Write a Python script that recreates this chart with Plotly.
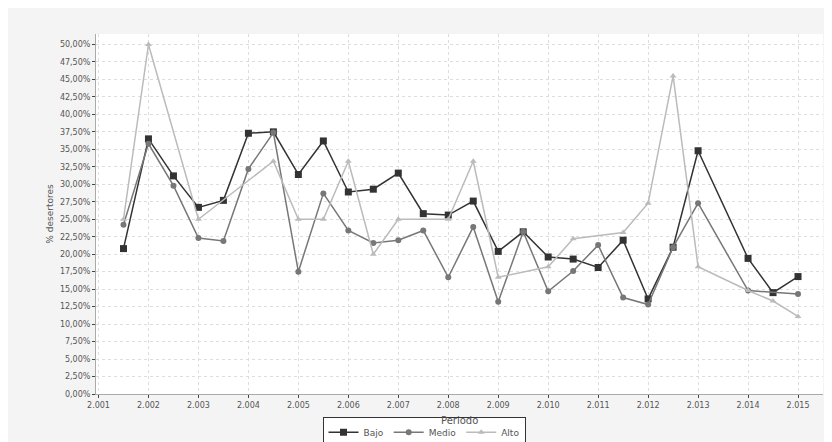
import plotly.graph_objects as go

x_bajo = [2001.5, 2002, 2002.5, 2003, 2003.5, 2004, 2004.5, 2005, 2005.5, 2006, 2006.5, 2007, 2007.5, 2008,
          2008.5, 2009, 2009.5, 2010, 2010.5, 2011, 2011.5, 2012, 2012.5, 2013, 2014, 2014.5, 2015]
y_bajo = [20.8, 36.5, 31.2, 26.7, 27.7, 37.3, 37.5, 31.4, 36.2, 28.9, 29.3, 31.6, 25.8, 25.6,
          27.6, 20.4, 23.2, 19.6, 19.3, 18.1, 22.0, 13.6, 21.0, 34.8, 19.4, 14.5, 16.8]

x_medio = [2001.5, 2002, 2002.5, 2003, 2003.5, 2004, 2004.5, 2005, 2005.5, 2006, 2006.5, 2007, 2007.5, 2008,
           2008.5, 2009, 2009.5, 2010, 2010.5, 2011, 2011.5, 2012, 2012.5, 2013, 2014, 2015]
y_medio = [24.2, 35.8, 29.8, 22.3, 21.9, 32.2, 37.4, 17.5, 28.7, 23.4, 21.6, 22.0, 23.4, 16.7,
           23.9, 13.2, 23.2, 14.7, 17.6, 21.3, 13.8, 12.8, 21.0, 27.3, 14.8, 14.3]

x_alto = [2001.5, 2002, 2003, 2004.5, 2005, 2005.5, 2006, 2006.5, 2007, 2008, 2008.5, 2009, 2010,
          2010.5, 2011.5, 2012, 2012.5, 2013, 2014, 2014.5, 2015]
y_alto = [25.0, 50.0, 25.0, 33.3, 25.0, 25.0, 33.3, 20.0, 25.0, 25.0, 33.3, 16.7, 18.2,
          22.2, 23.1, 27.3, 45.5, 18.2, 14.8, 13.3, 11.1]

years = list(range(2001, 2016))
year_labels = [f"2.{y % 1000:03d}" for y in years]
y_ticks = [i * 2.5 for i in range(21)]
y_labels = [f"{v:.2f}".replace(".", ",") + "%" for v in y_ticks]

fig = go.Figure()
fig.add_trace(go.Scatter(x=x_bajo, y=y_bajo, name="Bajo", mode="lines+markers",
                         line=dict(color="#333333", width=1.5),
                         marker=dict(symbol="square", size=7, color="#333333")))
fig.add_trace(go.Scatter(x=x_medio, y=y_medio, name="Medio", mode="lines+markers",
                         line=dict(color="#777777", width=1.5),
                         marker=dict(symbol="circle", size=6, color="#777777")))
fig.add_trace(go.Scatter(x=x_alto, y=y_alto, name="Alto", mode="lines+markers",
                         line=dict(color="#bbbbbb", width=1.5),
                         marker=dict(symbol="triangle-up", size=6, color="#bbbbbb")))

axis_font = dict(family="DejaVu Sans", size=8, color="#555555")
fig.update_layout(
    width=832, height=442,
    margin=dict(l=88, r=17, t=26, b=56, autoexpand=False),
    paper_bgcolor="#f4f4f4", plot_bgcolor="white",
    font=dict(family="DejaVu Sans", color="#555555"),
    xaxis=dict(range=[2000.95, 2015.5], tickvals=years, ticktext=year_labels, tickfont=axis_font,
               showgrid=True, gridcolor="#dddddd", griddash="dot", zeroline=False,
               showline=True, linecolor="#aaaaaa", ticks="outside", ticklen=3),
    yaxis=dict(range=[0, 51.5], tickvals=y_ticks, ticktext=y_labels, tickfont=axis_font,
               showgrid=True, gridcolor="#dddddd", griddash="dot", zeroline=False,
               showline=True, linecolor="#aaaaaa", ticks="outside", ticklen=3,
               title=dict(text="% desertores", font=dict(size=9, color="#555555"), standoff=4)),
    legend=dict(orientation="h", x=0.5, xanchor="center", xref="container",
                y=0.075, yanchor="top", yref="container",
                bgcolor="white", bordercolor="#333333", borderwidth=1, font=dict(size=9)),
    annotations=[dict(text="Periodo", xref="paper", yref="paper", x=0.5, y=-0.052,
                      yanchor="top", showarrow=False, font=dict(size=10, color="#555555"))],
)

fig.write_html("out.html")
